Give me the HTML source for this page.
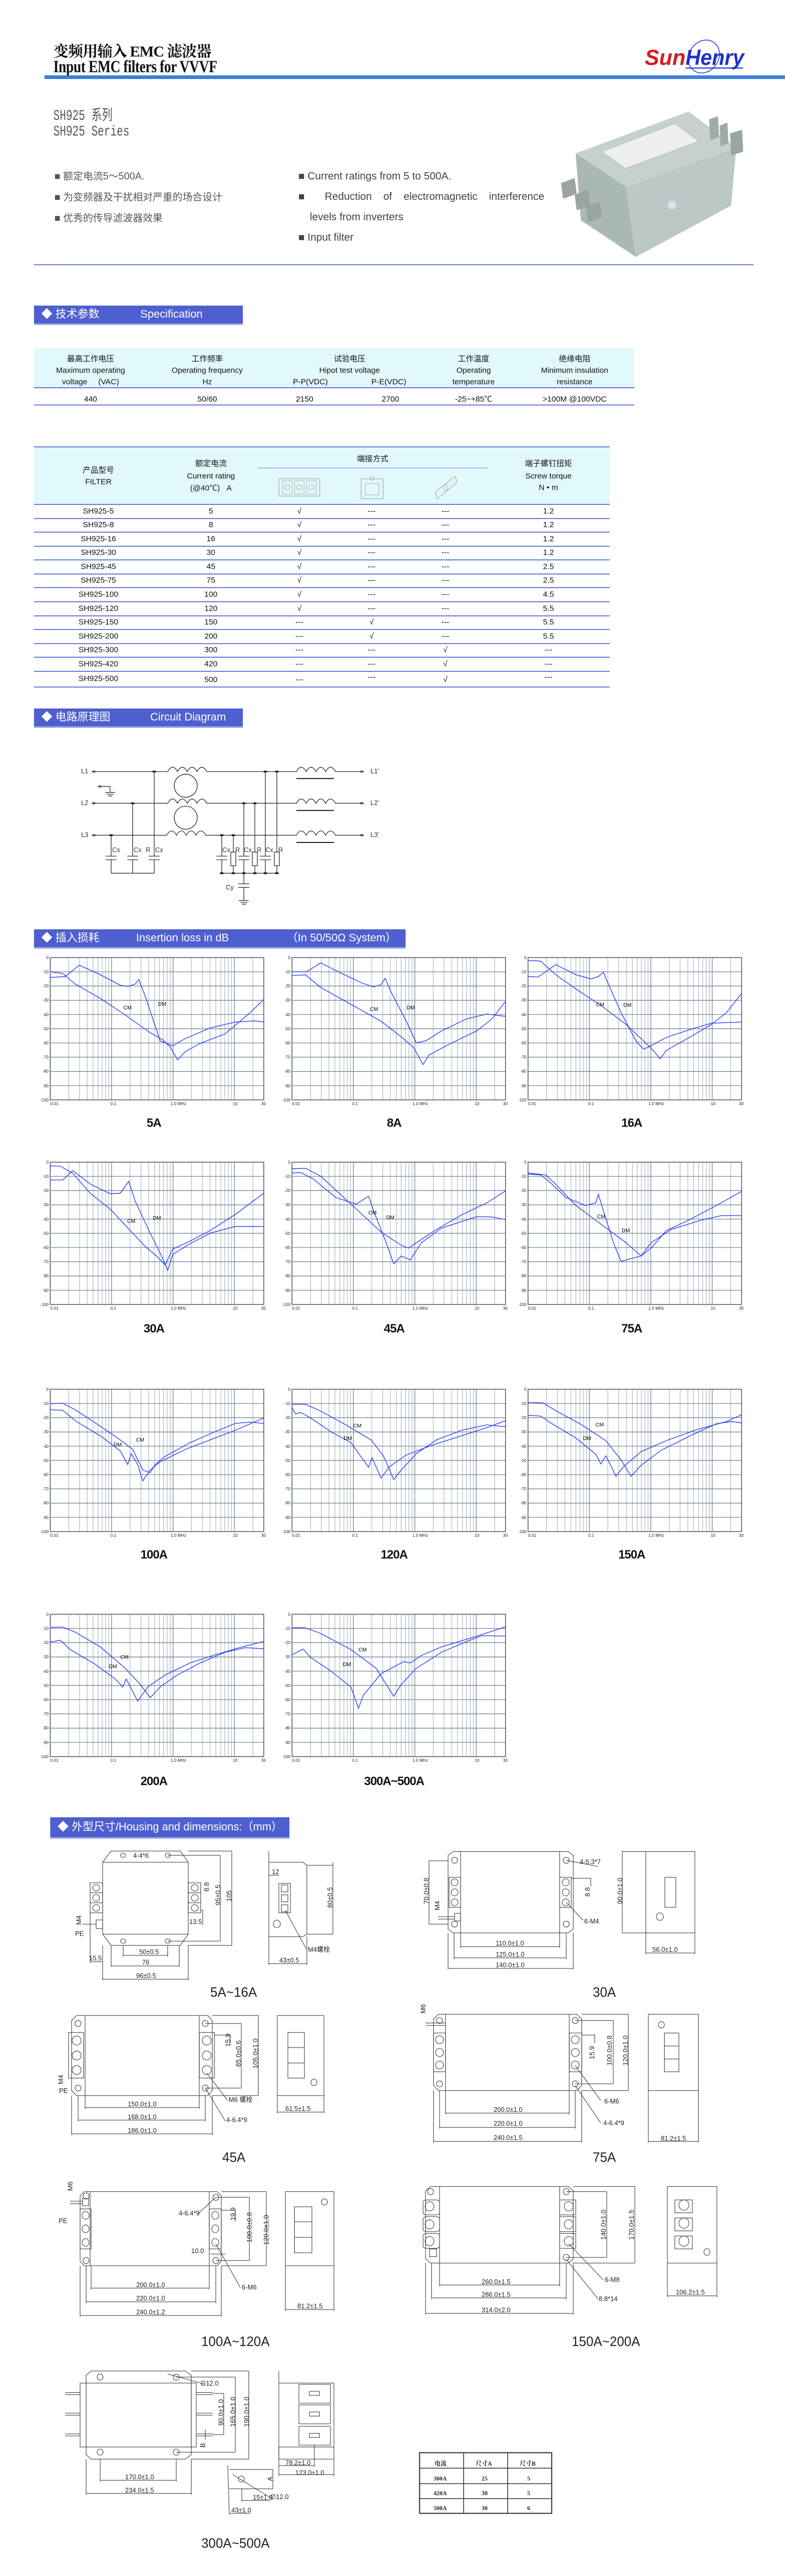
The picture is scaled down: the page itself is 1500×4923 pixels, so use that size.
<!DOCTYPE html>
<html><head><meta charset="utf-8">
<style>
html,body{margin:0;padding:0;background:#fff;}
body{width:1500px;height:4923px;position:relative;overflow:hidden;font-family:"Liberation Sans","Noto Sans CJK SC",sans-serif;color:#111;}
.a{position:absolute;}
.bar{position:absolute;background:#4e5fcf;border-bottom:3px solid #9aa6e6;color:#fff;font-size:21px;line-height:34px;white-space:nowrap;}
.bar span{position:absolute;top:0;}
.t{position:absolute;white-space:nowrap;transform:translate(-50%,-50%);font-size:15px;}
.lbl{position:absolute;transform:translate(-50%,-50%);font-size:23px;font-weight:bold;white-space:nowrap;letter-spacing:-1px;}
svg{position:absolute;overflow:visible;}
svg.z *{vector-effect:non-scaling-stroke;}
.hl{position:absolute;height:2px;background:#6a7de0;}
</style></head><body>

<!-- HEADER -->
<div class="a" style="left:102px;top:76px;font-family:'Liberation Serif','Noto Serif CJK SC',serif;font-weight:bold;font-size:29px;letter-spacing:-1px;">变频用输入 EMC 滤波器</div>
<div class="a" style="left:102px;top:110px;font-family:'Liberation Serif',serif;font-weight:bold;font-size:33px;transform:scaleX(0.8);transform-origin:left;letter-spacing:-0.5px;">Input EMC filters for VVVF</div>
<div class="a" style="left:85px;top:144px;width:1415px;height:7px;background:#3b80d8;"></div>
<svg style="left:1230px;top:78px" width="200" height="66">
<ellipse cx="115" cy="30" rx="28" ry="33" transform="rotate(35 115 30)" fill="none" stroke="#2a3bd8" stroke-width="1.5"/>
<text x="2" y="46" font-family="Liberation Sans" font-weight="bold" font-style="italic" font-size="42" fill="#d51a22" textLength="78" lengthAdjust="spacingAndGlyphs">Sun</text>
<text x="80" y="46" font-family="Liberation Sans" font-weight="bold" font-style="italic" font-size="42" fill="#2030cc" textLength="112" lengthAdjust="spacingAndGlyphs">Henry</text>
<line x1="80" y1="52" x2="190" y2="52" stroke="#2030cc" stroke-width="2"/>
</svg>

<div class="a" style="left:102px;top:198px;font-size:28px;color:#555;font-family:'Liberation Mono','Noto Sans CJK SC',monospace;transform:scaleX(0.72);transform-origin:left;">SH925 系列</div>
<div class="a" style="left:102px;top:237px;font-size:28px;color:#555;font-family:'Liberation Mono',monospace;transform:scaleX(0.72);transform-origin:left;">SH925 Series</div>

<div class="a" style="left:104px;top:318px;font-size:19px;color:#555;line-height:40px;">
<div>■ 额定电流5～500A.</div><div>■ 为变频器及干扰相对严重的场合设计</div><div>■ 优秀的传导滤波器效果</div></div>
<div class="a" style="left:570px;top:318px;font-size:20px;color:#444;line-height:39px;width:470px;">
<div>■ Current ratings from 5 to 500A.</div>
<div style="text-align:justify;text-align-last:justify;">■ Reduction of electromagnetic interference</div>
<div style="padding-left:22px;">levels from inverters</div><div>■ Input filter</div></div>

<!-- product -->
<svg style="left:0;top:0" width="1500" height="520">
<polygon points="1100,293 1196,357 1215,491 1110,421" fill="#a9b8b4"/>
<polygon points="1196,357 1407,282 1397,393 1215,491" fill="#bcc8c5"/>
<polygon points="1100,293 1316,213 1407,282 1196,357" fill="#c6d1ce"/>
<polygon points="1150,290 1290,236 1335,270 1195,322" fill="#eef0ee" stroke="#999" stroke-width="0.6"/>
<polygon points="1355,228 1372,222 1374,262 1357,268" fill="#a0aaa8"/>
<polygon points="1375,240 1390,234 1392,274 1377,280" fill="#a0aaa8"/>
<polygon points="1395,255 1418,248 1420,290 1397,297" fill="#9aa4a2"/>
<polygon points="1072,350 1098,340 1102,370 1076,380" fill="#9aa4a2"/>
<polygon points="1098,372 1124,362 1128,392 1102,402" fill="#9aa4a2"/>
<polygon points="1120,395 1146,385 1150,415 1124,425" fill="#9aa4a2"/>
<circle cx="1284" cy="392" r="8" fill="#dde"/>
</svg>
<div class="a" style="left:65px;top:505px;width:1375px;height:2px;background:#6d7fe0;"></div>

<!-- SPEC -->
<div class="bar" style="left:65px;top:584px;width:399px;height:34px;"><span style="left:14px;">◆ 技术参数</span><span style="left:203px;">Specification</span></div>
<div class="a" style="left:65px;top:665px;width:1147px;height:75px;background:#e2f9fb;"></div>
<div class="hl" style="left:65px;top:740px;width:1147px;"></div>
<div class="hl" style="left:65px;top:773px;width:1147px;"></div>
<div class="t" style="left:173px;top:685px">最高工作电压</div><div class="t" style="left:173px;top:708px">Maximum operating</div><div class="t" style="left:173px;top:730px">voltage &nbsp;&nbsp;&nbsp;&nbsp;(VAC)</div>
<div class="t" style="left:396px;top:685px">工作频率</div><div class="t" style="left:396px;top:708px">Operating frequency</div><div class="t" style="left:396px;top:730px">Hz</div>
<div class="t" style="left:668px;top:685px">试验电压</div><div class="t" style="left:668px;top:708px">Hipot test voltage</div><div class="t" style="left:593px;top:730px">P-P(VDC)</div><div class="t" style="left:743px;top:730px">P-E(VDC)</div>
<div class="t" style="left:905px;top:685px">工作温度</div><div class="t" style="left:905px;top:708px">Operating</div><div class="t" style="left:905px;top:730px">temperature</div>
<div class="t" style="left:1098px;top:685px">绝缘电阻</div><div class="t" style="left:1098px;top:708px">Minimum insulation</div><div class="t" style="left:1098px;top:730px">resistance</div>
<div class="t" style="left:173px;top:763px">440</div><div class="t" style="left:396px;top:763px">50/60</div><div class="t" style="left:582px;top:763px">2150</div><div class="t" style="left:746px;top:763px">2700</div><div class="t" style="left:905px;top:762px">-25~+85℃</div><div class="t" style="left:1098px;top:763px">&gt;100M @100VDC</div>

<!-- FILTER TABLE -->
<div class="hl" style="left:65px;top:853px;width:1100px;"></div>
<div class="a" style="left:65px;top:855px;width:1100px;height:108px;background:#e2f9fb;"></div>
<div class="hl" style="left:65px;top:963px;width:1100px;"></div>
<div class="a" style="left:493px;top:894px;width:438px;height:1px;background:#6a7de0;"></div>
<div class="t" style="left:188px;top:898px">产品型号</div><div class="t" style="left:188px;top:921px">FILTER</div>
<div class="t" style="left:403px;top:885px">额定电流</div><div class="t" style="left:403px;top:910px">Current rating</div><div class="t" style="left:403px;top:932px">(@40℃) &nbsp;&nbsp;A</div>
<div class="t" style="left:712px;top:876px">端接方式</div>
<div class="t" style="left:1048px;top:885px">端子螺钉扭矩</div><div class="t" style="left:1048px;top:910px">Screw torque</div><div class="t" style="left:1048px;top:932px">N • m</div>
<svg style="left:530px;top:910px" width="430" height="50">
<rect x="3" y="5" width="78" height="33" fill="none" stroke="#999"/><rect x="10" y="9" width="18" height="25" fill="none" stroke="#aaa"/><rect x="33" y="9" width="18" height="25" fill="none" stroke="#aaa"/><rect x="56" y="9" width="18" height="25" fill="none" stroke="#aaa"/>
<circle cx="19" cy="21" r="5" fill="none" stroke="#aaa"/><circle cx="42" cy="21" r="5" fill="none" stroke="#aaa"/><circle cx="65" cy="21" r="5" fill="none" stroke="#aaa"/>
<rect x="160" y="5" width="42" height="38" fill="none" stroke="#999"/><rect x="168" y="14" width="26" height="22" fill="none" stroke="#aaa"/><circle cx="181" cy="4" r="4" fill="none" stroke="#aaa"/>
<polygon points="302,30 340,0 343,12 305,44" fill="none" stroke="#999"/><ellipse cx="322" cy="22" rx="4" ry="6" fill="none" stroke="#aaa"/>
</svg>
<div class="t" style="left:188px;top:977px">SH925-5</div><div class="t" style="left:403px;top:977px">5</div><div class="t" style="left:572px;top:977px">√</div><div class="t" style="left:710px;top:977px">---</div><div class="t" style="left:851px;top:977px">---</div><div class="t" style="left:1048px;top:977px">1.2</div>
<div class="hl" style="left:65px;top:990px;width:1100px;"></div>
<div class="t" style="left:188px;top:1003px">SH925-8</div><div class="t" style="left:403px;top:1003px">8</div><div class="t" style="left:572px;top:1003px">√</div><div class="t" style="left:710px;top:1003px">---</div><div class="t" style="left:851px;top:1003px">---</div><div class="t" style="left:1048px;top:1003px">1.2</div>
<div class="hl" style="left:65px;top:1016px;width:1100px;"></div>
<div class="t" style="left:188px;top:1030px">SH925-16</div><div class="t" style="left:403px;top:1030px">16</div><div class="t" style="left:572px;top:1030px">√</div><div class="t" style="left:710px;top:1030px">---</div><div class="t" style="left:851px;top:1030px">---</div><div class="t" style="left:1048px;top:1030px">1.2</div>
<div class="hl" style="left:65px;top:1043px;width:1100px;"></div>
<div class="t" style="left:188px;top:1056px">SH925-30</div><div class="t" style="left:403px;top:1056px">30</div><div class="t" style="left:572px;top:1056px">√</div><div class="t" style="left:710px;top:1056px">---</div><div class="t" style="left:851px;top:1056px">---</div><div class="t" style="left:1048px;top:1056px">1.2</div>
<div class="hl" style="left:65px;top:1069px;width:1100px;"></div>
<div class="t" style="left:188px;top:1083px">SH925-45</div><div class="t" style="left:403px;top:1083px">45</div><div class="t" style="left:572px;top:1083px">√</div><div class="t" style="left:710px;top:1083px">---</div><div class="t" style="left:851px;top:1083px">---</div><div class="t" style="left:1048px;top:1083px">2.5</div>
<div class="hl" style="left:65px;top:1096px;width:1100px;"></div>
<div class="t" style="left:188px;top:1109px">SH925-75</div><div class="t" style="left:403px;top:1109px">75</div><div class="t" style="left:572px;top:1109px">√</div><div class="t" style="left:710px;top:1109px">---</div><div class="t" style="left:851px;top:1109px">---</div><div class="t" style="left:1048px;top:1109px">2.5</div>
<div class="hl" style="left:65px;top:1122px;width:1100px;"></div>
<div class="t" style="left:188px;top:1136px">SH925-100</div><div class="t" style="left:403px;top:1136px">100</div><div class="t" style="left:572px;top:1136px">√</div><div class="t" style="left:710px;top:1136px">---</div><div class="t" style="left:851px;top:1136px">---</div><div class="t" style="left:1048px;top:1136px">4.5</div>
<div class="hl" style="left:65px;top:1149px;width:1100px;"></div>
<div class="t" style="left:188px;top:1163px">SH925-120</div><div class="t" style="left:403px;top:1163px">120</div><div class="t" style="left:572px;top:1163px">√</div><div class="t" style="left:710px;top:1163px">---</div><div class="t" style="left:851px;top:1163px">---</div><div class="t" style="left:1048px;top:1163px">5.5</div>
<div class="hl" style="left:65px;top:1176px;width:1100px;"></div>
<div class="t" style="left:188px;top:1189px">SH925-150</div><div class="t" style="left:403px;top:1189px">150</div><div class="t" style="left:572px;top:1189px">---</div><div class="t" style="left:710px;top:1189px">√</div><div class="t" style="left:851px;top:1189px">---</div><div class="t" style="left:1048px;top:1189px">5.5</div>
<div class="hl" style="left:65px;top:1202px;width:1100px;"></div>
<div class="t" style="left:188px;top:1216px">SH925-200</div><div class="t" style="left:403px;top:1216px">200</div><div class="t" style="left:572px;top:1216px">---</div><div class="t" style="left:710px;top:1216px">√</div><div class="t" style="left:851px;top:1216px">---</div><div class="t" style="left:1048px;top:1216px">5.5</div>
<div class="hl" style="left:65px;top:1229px;width:1100px;"></div>
<div class="t" style="left:188px;top:1242px">SH925-300</div><div class="t" style="left:403px;top:1242px">300</div><div class="t" style="left:572px;top:1242px">---</div><div class="t" style="left:710px;top:1242px">---</div><div class="t" style="left:851px;top:1242px">√</div><div class="t" style="left:1048px;top:1242px">---</div>
<div class="hl" style="left:65px;top:1255px;width:1100px;"></div>
<div class="t" style="left:188px;top:1269px">SH925-420</div><div class="t" style="left:403px;top:1269px">420</div><div class="t" style="left:572px;top:1269px">---</div><div class="t" style="left:710px;top:1269px">---</div><div class="t" style="left:851px;top:1269px">√</div><div class="t" style="left:1048px;top:1269px">---</div>
<div class="hl" style="left:65px;top:1282px;width:1100px;"></div>
<div class="t" style="left:188px;top:1297px">SH925-500</div><div class="t" style="left:403px;top:1299px">500</div><div class="t" style="left:572px;top:1299px">---</div><div class="t" style="left:710px;top:1294px">---</div><div class="t" style="left:851px;top:1299px">√</div><div class="t" style="left:1048px;top:1294px">---</div>
<div class="hl" style="left:65px;top:1312px;width:1100px;"></div>

<!-- CIRCUIT -->
<div class="bar" style="left:65px;top:1354px;width:399px;height:34px;"><span style="left:14px;">◆ 电路原理图</span><span style="left:222px;">Circuit Diagram</span></div>
<svg class="z" style="left:0;top:1340px" width="1500" height="720" viewBox="0 0 1568 1568" preserveAspectRatio="none">
<g fill="none" stroke="#222" stroke-width="1.2">
<path d="M187,293 H335 q9.75,-36 19.5,0 q9.75,-36 19.5,0 q9.75,-36 19.5,0 q9.75,-36 19.5,0 H592 q9.75,-36 19.5,0 q9.75,-36 19.5,0 q9.75,-36 19.5,0 q9.75,-36 19.5,0 H723"/>
<path d="M187,425 H335 q9.75,-36 19.5,0 q9.75,-36 19.5,0 q9.75,-36 19.5,0 q9.75,-36 19.5,0 H592 q9.75,-36 19.5,0 q9.75,-36 19.5,0 q9.75,-36 19.5,0 q9.75,-36 19.5,0 H723"/>
<path d="M187,558 H333 q9.75,-36 19.5,0 q9.75,-36 19.5,0 q9.75,-36 19.5,0 q9.75,-36 19.5,0 H592 q9.75,-36 19.5,0 q9.75,-36 19.5,0 q9.75,-36 19.5,0 q9.75,-36 19.5,0 H723"/>
<path d="M592,322 H667 M592,455 H667 M592,588 H667" stroke-width="2"/>
<ellipse cx="371" cy="352" rx="23" ry="48"/><ellipse cx="371" cy="485" rx="23" ry="48"/>
<path d="M308,293 V645 M308,660 V716 M265,425 V645 M265,660 V716 M222,558 V645 M222,660 V716 M222,716 H308"/>
<path d="M211,645 H233 M211,660 H233 M254,645 H276 M254,660 H276 M297,645 H319 M297,660 H319"/>
<path d="M443,558 V645 M443,660 V716 M487,425 V645 M487,660 V716 M530,293 V645 M530,660 V716 M466,558 V628 M466,685 V716 M509,425 V628 M509,685 V716 M553,293 V628 M553,685 V716 M443,716 H553"/>
<path d="M432,645 H454 M432,660 H454 M476,645 H498 M476,660 H498 M519,645 H541 M519,660 H541"/>
<rect x="461" y="628" width="10" height="57"/><rect x="504" y="628" width="10" height="57"/><rect x="548" y="628" width="10" height="57"/>
<path d="M487,716 V760 M476,760 H498 M476,775 H498 M487,775 V830 M477,830 H497 M480,838 H494 M483,845 H491"/>
<path d="M200,355 H220 V380 M210,380 H230 M213,388 H227 M216,395 H224"/>
<circle cx="187" cy="293" r="3"/><circle cx="187" cy="425" r="3"/><circle cx="187" cy="558" r="3"/><circle cx="723" cy="293" r="3"/><circle cx="723" cy="425" r="3"/><circle cx="723" cy="558" r="3"/><circle cx="199" cy="355" r="3"/>
</g>
<g fill="#111">
<circle cx="308" cy="293" r="4"/><circle cx="530" cy="293" r="4"/><circle cx="553" cy="293" r="4"/><circle cx="265" cy="425" r="4"/><circle cx="487" cy="425" r="4"/><circle cx="509" cy="425" r="4"/><circle cx="222" cy="558" r="4"/><circle cx="443" cy="558" r="4"/><circle cx="466" cy="558" r="4"/>
<circle cx="443" cy="716" r="4"/><circle cx="466" cy="716" r="4"/><circle cx="487" cy="716" r="4"/><circle cx="509" cy="716" r="4"/><circle cx="530" cy="716" r="4"/><circle cx="553" cy="716" r="4"/>
</g>
<g font-size="13" fill="#333" font-family="Liberation Sans">
<text transform="translate(162,300) scale(1,2.178)">L1</text><text transform="translate(162,432) scale(1,2.178)">L2</text><text transform="translate(162,565) scale(1,2.178)">L3</text>
<text transform="translate(740,300) scale(1,2.178)">L1'</text><text transform="translate(740,432) scale(1,2.178)">L2'</text><text transform="translate(740,565) scale(1,2.178)">L3'</text>
<text transform="translate(224,628) scale(1,2.178)">Cx</text><text transform="translate(267,628) scale(1,2.178)">Cx</text><text transform="translate(291,628) scale(1,2.178)">R</text><text transform="translate(310,628) scale(1,2.178)">Cx</text>
<text transform="translate(444,628) scale(1,2.178)">Cx</text><text transform="translate(470,628) scale(1,2.178)">R</text><text transform="translate(487,628) scale(1,2.178)">Cx</text><text transform="translate(513,628) scale(1,2.178)">R</text><text transform="translate(530,628) scale(1,2.178)">Cx</text><text transform="translate(556,628) scale(1,2.178)">R</text>
<text transform="translate(451,784) scale(1,2.178)">Cy</text>
</g></svg>

<!-- INSERTION LOSS -->
<div class="bar" style="left:65px;top:1776px;width:710px;height:34px;"><span style="left:14px;">◆ 插入损耗</span><span style="left:195px;">Insertion loss in dB</span><span style="left:483px;">（In 50/50Ω System）</span></div>

<svg width="0" height="0" style="left:0;top:0"><defs>
<g id="grid">
<rect x="0" y="0" width="408" height="272" fill="#fff"/>
<path fill="none" stroke="#8a9aa8" stroke-width="0.8" d="M35.3,0V272M56,0V272M70.6,0V272M82,0V272M91.3,0V272M99.1,0V272M105.9,0V272M111.9,0V272M152.6,0V272M173.3,0V272M187.9,0V272M199.3,0V272M208.6,0V272M216.4,0V272M223.2,0V272M229.2,0V272M269.9,0V272M290.6,0V272M305.2,0V272M316.6,0V272M325.9,0V272M333.7,0V272M340.5,0V272M346.5,0V272M387.2,0V272"/>
<path fill="none" stroke="#6c7c8c" stroke-width="1.2" d="M117.3,0V272M234.6,0V272M351.9,0V272M0,27.2H408M0,54.4H408M0,81.6H408M0,108.8H408M0,136H408M0,163.2H408M0,190.4H408M0,217.6H408M0,244.8H408"/>
<rect x="0" y="0" width="408" height="272" fill="none" stroke="#556" stroke-width="1.5"/>
</g>
<g id="ax" font-size="8" fill="#223" font-family="Liberation Sans">
<text x="-3" y="3" text-anchor="end">0</text><text x="-3" y="30" text-anchor="end">-10</text><text x="-3" y="57" text-anchor="end">-20</text><text x="-3" y="84" text-anchor="end">-30</text><text x="-3" y="112" text-anchor="end">-40</text><text x="-3" y="139" text-anchor="end">-50</text><text x="-3" y="166" text-anchor="end">-60</text><text x="-3" y="193" text-anchor="end">-70</text><text x="-3" y="220" text-anchor="end">-80</text><text x="-3" y="248" text-anchor="end">-90</text><text x="-3" y="275" text-anchor="end">-100</text>
<text x="0" y="282">0.01</text><text x="115" y="282">0.1</text><text x="230" y="282">1.0  MHz</text><text x="349" y="282">10</text><text x="403" y="282">30</text>
</g></defs></svg>

<!-- Row 1 -->
<svg style="left:96px;top:1830px" width="408" height="272"><use href="#grid"/><use href="#ax"/>
<g transform="scale(0.955,0.453) translate(-100,-1068)" fill="none" stroke="#2236f0" stroke-width="1.3"><polyline vector-effect="non-scaling-stroke" points="100,1152 130,1148 158,1100 200,1140 240,1185 255,1190 270,1180 277,1160 290,1230 320,1420 345,1440 370,1410 420,1365 470,1340 510,1335 527,1340"/><polyline vector-effect="non-scaling-stroke" points="100,1128 125,1135 150,1180 200,1240 250,1310 300,1385 325,1415 340,1445 355,1500 370,1465 400,1430 450,1390 500,1300 527,1245"/></g>
<text x="140" y="99" font-size="10">CM</text><text x="206" y="92" font-size="10">DM</text></svg>
<svg style="left:558px;top:1830px" width="408" height="272"><use href="#grid"/><use href="#ax"/>
<g transform="scale(0.962,0.461) translate(-583,-1066)" fill="none" stroke="#2236f0" stroke-width="1.3"><polyline vector-effect="non-scaling-stroke" points="583,1125 612,1125 640,1088 680,1130 720,1170 745,1188 760,1178 768,1152 780,1210 810,1330 830,1420 850,1410 880,1370 930,1320 970,1300 1007,1310"/><polyline vector-effect="non-scaling-stroke" points="583,1140 610,1138 640,1190 700,1260 760,1330 800,1395 825,1440 843,1510 855,1470 900,1420 950,1370 980,1320 1007,1248"/></g>
<text x="149" y="102" font-size="10">CM</text><text x="219" y="99" font-size="10">DM</text></svg>
<svg style="left:1009px;top:1830px" width="408" height="272"><use href="#grid"/><use href="#ax"/>
<g transform="scale(0.96,0.453) translate(-1055,-1068)" fill="none" stroke="#2236f0" stroke-width="1.3"><polyline vector-effect="non-scaling-stroke" points="1055,1148 1075,1150 1110,1098 1150,1140 1180,1158 1195,1148 1205,1130 1215,1180 1240,1300 1270,1420 1285,1455 1300,1440 1330,1405 1380,1370 1420,1345 1480,1340"/><polyline vector-effect="non-scaling-stroke" points="1055,1080 1080,1083 1110,1140 1150,1200 1200,1270 1250,1350 1280,1410 1300,1450 1318,1495 1330,1460 1380,1400 1420,1350 1450,1300 1480,1220"/></g>
<text x="130" y="93" font-size="10">CM</text><text x="182" y="94" font-size="10">DM</text></svg>
<div class="lbl" style="left:294px;top:2146px">5A</div><div class="lbl" style="left:753px;top:2146px">8A</div><div class="lbl" style="left:1207px;top:2146px">16A</div>

<!-- Row 2 -->
<svg style="left:96px;top:2221px" width="408" height="272"><use href="#grid"/><use href="#ax"/>
<g transform="scale(0.955,0.508) translate(-100,-373)" fill="none" stroke="#2236f0" stroke-width="1.3"><polyline vector-effect="non-scaling-stroke" points="100,440 125,440 145,405 180,455 220,492 240,490 257,445 270,520 300,640 320,715 335,780 345,720 380,680 420,640 470,615 527,615"/><polyline vector-effect="non-scaling-stroke" points="100,387 120,388 145,415 180,490 220,550 260,630 290,690 315,730 330,760 345,700 380,670 420,630 470,570 527,490"/></g>
<text x="147" y="116" font-size="10">CM</text><text x="196" y="110" font-size="10">DM</text></svg>
<svg style="left:558px;top:2221px" width="408" height="272"><use href="#grid"/><use href="#ax"/>
<g transform="scale(0.962,0.508) translate(-583,-377)" fill="none" stroke="#2236f0" stroke-width="1.3"><polyline vector-effect="non-scaling-stroke" points="583,418 600,416 625,440 670,510 710,535 735,505 745,560 770,680 785,760 800,730 818,745 840,680 880,625 950,582 980,583 1007,593"/><polyline vector-effect="non-scaling-stroke" points="583,402 610,400 640,430 680,500 720,570 760,640 800,690 815,700 830,680 870,630 920,575 970,530 1007,485"/></g>
<text x="146" y="100" font-size="10">CM</text><text x="180" y="109" font-size="10">DM</text></svg>
<svg style="left:1009px;top:2221px" width="408" height="272"><use href="#grid"/><use href="#ax"/>
<g transform="scale(0.96,0.508) translate(-1055,-377)" fill="none" stroke="#2236f0" stroke-width="1.3"><polyline vector-effect="non-scaling-stroke" points="1055,422 1080,425 1100,455 1130,510 1170,540 1190,530 1195,498 1205,560 1225,680 1240,750 1260,740 1280,730 1300,680 1340,630 1400,595 1440,578 1480,578"/><polyline vector-effect="non-scaling-stroke" points="1055,418 1090,425 1110,460 1150,540 1200,610 1250,680 1280,730 1300,700 1330,635 1380,590 1430,540 1480,487"/></g>
<text x="132" y="107" font-size="10">CM</text><text x="179" y="134" font-size="10">DM</text></svg>
<div class="lbl" style="left:294px;top:2539px">30A</div><div class="lbl" style="left:753px;top:2539px">45A</div><div class="lbl" style="left:1207px;top:2539px">75A</div>

<!-- Row 3 -->
<svg style="left:96px;top:2655px" width="408" height="272"><use href="#grid"/><use href="#ax"/>
<g transform="scale(0.955,0.523) translate(-100,-1225)" fill="none" stroke="#2236f0" stroke-width="1.3"><polyline vector-effect="non-scaling-stroke" points="100,1278 125,1276 150,1300 200,1360 240,1410 265,1445 285,1520 300,1530 310,1500 330,1470 380,1420 430,1380 470,1350 500,1345 527,1350"/><polyline vector-effect="non-scaling-stroke" points="100,1300 125,1302 150,1340 200,1395 240,1450 255,1500 262,1460 275,1500 285,1560 300,1520 320,1490 370,1445 420,1410 470,1375 527,1330"/></g>
<text x="164" y="100" font-size="10">CM</text><text x="121" y="109" font-size="10">DM</text></svg>
<svg style="left:558px;top:2655px" width="408" height="272"><use href="#grid"/><use href="#ax"/>
<g transform="scale(0.962,0.523) translate(-583,-1215)" fill="none" stroke="#2236f0" stroke-width="1.3"><polyline vector-effect="non-scaling-stroke" points="583,1270 610,1270 640,1295 690,1345 740,1400 765,1460 785,1545 800,1510 830,1450 870,1400 920,1365 970,1345 1007,1352"/><polyline vector-effect="non-scaling-stroke" points="583,1283 590,1305 600,1300 620,1320 660,1370 700,1410 735,1500 742,1465 760,1540 775,1500 810,1455 860,1420 920,1385 970,1355 1007,1330"/></g>
<text x="117" y="73" font-size="10">CM</text><text x="99" y="97" font-size="10">DM</text></svg>
<svg style="left:1009px;top:2655px" width="408" height="272"><use href="#grid"/><use href="#ax"/>
<g transform="scale(0.96,0.523) translate(-1055,-1222)" fill="none" stroke="#2236f0" stroke-width="1.3"><polyline vector-effect="non-scaling-stroke" points="1055,1270 1085,1272 1110,1300 1160,1350 1210,1410 1240,1480 1260,1540 1280,1500 1320,1445 1380,1390 1430,1348 1460,1340 1480,1345"/><polyline vector-effect="non-scaling-stroke" points="1055,1317 1080,1320 1100,1345 1150,1400 1190,1460 1200,1495 1210,1465 1230,1540 1245,1505 1280,1450 1330,1410 1390,1370 1450,1340 1480,1315"/></g>
<text x="129" y="71" font-size="10">CM</text><text x="105" y="97" font-size="10">DM</text></svg>
<div class="lbl" style="left:294px;top:2971px">100A</div><div class="lbl" style="left:753px;top:2971px">120A</div><div class="lbl" style="left:1207px;top:2971px">150A</div>

<!-- Row 4 -->
<svg style="left:96px;top:3085px" width="408" height="272"><use href="#grid"/><use href="#ax"/>
<g transform="scale(0.955,0.511) translate(-100,-558)" fill="none" stroke="#2236f0" stroke-width="1.3"><polyline vector-effect="non-scaling-stroke" points="100,607 125,606 150,625 200,680 250,760 280,820 300,870 320,830 350,790 400,740 450,700 490,683 527,687"/><polyline vector-effect="non-scaling-stroke" points="100,662 120,655 140,690 190,745 230,800 245,830 252,800 275,883 295,830 330,785 380,740 430,710 480,682 527,660"/></g>
<text x="134" y="85" font-size="10">CM</text><text x="112" y="103" font-size="10">DM</text></svg>
<svg style="left:558px;top:3085px" width="408" height="272"><use href="#grid"/><use href="#ax"/>
<g transform="scale(0.962,0.511) translate(-583,-558)" fill="none" stroke="#2236f0" stroke-width="1.3"><polyline vector-effect="non-scaling-stroke" points="583,608 610,609 640,630 700,690 750,760 785,865 800,820 830,760 880,700 930,660 960,638 1007,640"/><polyline vector-effect="non-scaling-stroke" points="583,710 605,688 620,720 660,770 700,830 715,910 725,860 760,780 805,735 818,740 840,712 880,680 950,640 1007,605"/></g>
<text x="127" y="71" font-size="10">CM</text><text x="97" y="99" font-size="10">DM</text></svg>
<div class="lbl" style="left:294px;top:3404px">200A</div><div class="lbl" style="left:753px;top:3404px">300A~500A</div>

<!-- HOUSING -->
<div class="bar" style="left:96px;top:3473px;width:457px;height:38px;line-height:38px;"><span style="left:14px;">◆ 外型尺寸/Housing and dimensions:（mm）</span></div>

<svg class="z" style="left:0;top:3450px" width="1500" height="750" viewBox="0 0 1568 1568" preserveAspectRatio="none">
<g fill="none" stroke="#333" stroke-width="1">
<polygon points="205,228 222,183 360,183 376,228 376,515 360,560 222,560 205,515"/>
<path d="M205,228H376M205,515H376"/>
<ellipse cx="246" cy="200" rx="5" ry="9"/><ellipse cx="335" cy="200" rx="5" ry="9"/><ellipse cx="246" cy="543" rx="5" ry="9"/><ellipse cx="335" cy="543" rx="5" ry="9"/>
<rect x="180" y="310" width="25" height="120"/><rect x="376" y="310" width="25" height="120"/>
<path d="M180,350H205M180,390H205M376,350H401M376,390H401"/>
<ellipse cx="192" cy="330" rx="7" ry="13"/><ellipse cx="192" cy="370" rx="7" ry="13"/><ellipse cx="192" cy="410" rx="7" ry="13"/><ellipse cx="389" cy="330" rx="7" ry="13"/><ellipse cx="389" cy="370" rx="7" ry="13"/><ellipse cx="389" cy="410" rx="7" ry="13"/>
<rect x="192" y="458" width="13" height="35"/><path d="M165,475H192"/>
<path d="M335,200H440M335,543H440M440,200V543M376,183H463M376,560H463M463,183V560M246,560V605M335,560V605M246,600H335M222,560V645M358,560V645M222,642H358M205,560V700M376,560V700M205,695H376M180,430V630M205,560V630M180,625H205M401,420H405V480"/>
<path d="M537,183V560M537,228H605L613,240V515L605,525H537M613,240H665M613,515H665M665,228V515M537,560V638M613,525V638M537,633H613M537,280H557"/>
<rect x="557" y="312" width="23" height="118"/><rect x="562" y="318" width="13" height="28"/><rect x="562" y="358" width="13" height="28"/><rect x="562" y="398" width="13" height="28"/>
<ellipse cx="553" cy="474" rx="7" ry="15"/><path d="M570,420L612,575"/>
<polygon points="895,200 905,185 1135,185 1145,200 1145,495 1135,510 905,510 895,495"/>
<path d="M920,185V510M1118,185V510"/>
<ellipse cx="908" cy="220" rx="6" ry="12"/><ellipse cx="908" cy="475" rx="6" ry="12"/><ellipse cx="1131" cy="220" rx="6" ry="12"/><ellipse cx="1131" cy="475" rx="6" ry="12"/>
<rect x="897" y="288" width="23" height="120"/><rect x="1118" y="288" width="23" height="120"/>
<ellipse cx="908" cy="308" rx="7" ry="14"/><ellipse cx="908" cy="348" rx="7" ry="14"/><ellipse cx="908" cy="388" rx="7" ry="14"/><ellipse cx="1130" cy="308" rx="7" ry="14"/><ellipse cx="1130" cy="348" rx="7" ry="14"/><ellipse cx="1130" cy="388" rx="7" ry="14"/>
<rect x="908" y="432" width="12" height="30"/><path d="M875,445H908M875,455H908"/>
<path d="M857,222V475M857,222H895M857,475H895M920,510V570M1118,510V570M920,565H1118M907,510V615M1131,510V615M907,610H1131M895,510V655M1145,510V655M895,652H1145M1141,292H1180V325M1131,220L1195,245M1131,388L1165,460"/>
<rect x="1243" y="185" width="145" height="325"/><path d="M1290,185V510M1290,510V595M1388,510V595M1290,590H1388"/>
<rect x="1328" y="288" width="22" height="120"/><ellipse cx="1318" cy="445" rx="7" ry="15"/>
<polygon points="143,860 153,840 415,840 424,860 424,1140 415,1160 153,1160 143,1140"/>
<path d="M170,840V1160M398,840V1160"/>
<ellipse cx="156" cy="872" rx="6" ry="12"/><ellipse cx="156" cy="1130" rx="6" ry="12"/><ellipse cx="410" cy="872" rx="6" ry="12"/><ellipse cx="410" cy="1130" rx="6" ry="12"/>
<rect x="137" y="908" width="30" height="182"/><rect x="398" y="908" width="30" height="182"/>
<ellipse cx="153" cy="940" rx="9" ry="18"/><ellipse cx="153" cy="1000" rx="9" ry="18"/><ellipse cx="153" cy="1058" rx="9" ry="18"/><ellipse cx="413" cy="940" rx="9" ry="18"/><ellipse cx="413" cy="1000" rx="9" ry="18"/><ellipse cx="413" cy="1058" rx="9" ry="18"/>
<path d="M410,872H482M410,1130H482M482,872V1130M424,840H516M424,1160H516M516,840V1160M170,1160V1213M398,1160V1213M170,1208H398M156,1160V1263M410,1160V1263M156,1258H410M143,1160V1318M424,1160V1318M143,1313H424M428,918H460V950M413,1070L455,1180M410,1130L450,1262"/>
<rect x="554" y="840" width="93" height="320"/><path d="M554,1160V1231M647,1160V1231M554,1226H647"/>
<rect x="575" y="908" width="33" height="182"/><path d="M575,968H608M575,1030H608"/><ellipse cx="627" cy="1107" rx="6" ry="13"/>
<polygon points="866,855 876,835 1152,835 1162,855 1162,1120 1152,1140 876,1140 866,1120"/>
<path d="M890,835V1140M1137,835V1140"/>
<ellipse cx="878" cy="860" rx="6" ry="12"/><ellipse cx="878" cy="1113" rx="6" ry="12"/><ellipse cx="1149" cy="860" rx="6" ry="12"/><ellipse cx="1149" cy="1113" rx="6" ry="12"/>
<rect x="866" y="910" width="24" height="155"/><rect x="1137" y="910" width="25" height="155"/>
<ellipse cx="878" cy="937" rx="8" ry="16"/><ellipse cx="878" cy="988" rx="8" ry="16"/><ellipse cx="878" cy="1038" rx="8" ry="16"/><ellipse cx="1149" cy="937" rx="8" ry="16"/><ellipse cx="1149" cy="988" rx="8" ry="16"/><ellipse cx="1149" cy="1038" rx="8" ry="16"/>
<path d="M1149,860H1225M1149,1113H1225M1225,860V1113M1162,835H1255M1162,1140H1255M1255,835V1140M890,1140V1235M1137,1140V1235M890,1230H1137M878,1140V1292M1149,1140V1292M878,1287H1149M866,1140V1348M1162,1140V1348M866,1343H1162M1162,918H1188V950M1149,1040L1200,1180M1149,1120L1200,1270M850,870H890M850,880H890"/>
<rect x="1295" y="835" width="100" height="305"/><path d="M1295,1140V1348M1395,1140V1348M1295,1343H1395"/>
<rect x="1327" y="910" width="29" height="155"/><path d="M1327,962H1356M1327,1014H1356"/><ellipse cx="1321" cy="877" rx="6" ry="13"/>
</g>
<g font-size="13" fill="#222" font-family="Liberation Sans">
<text transform="translate(266,210) scale(1,2.09)">4-4*6</text>
<text transform="translate(278,595) scale(1,2.09)">50±0.5</text><text transform="translate(284,637) scale(1,2.09)">76</text><text transform="translate(272,690) scale(1,2.09)">96±0.5</text><text transform="translate(178,620) scale(1,2.09)">15.5</text><text transform="translate(378,475) scale(1,2.09)">13.5</text><text transform="translate(150,522) scale(1,2.09)">PE</text>
<text transform="translate(162,478) scale(1,2.09) rotate(-90)">M4</text><text transform="translate(417,345) scale(1,2.09) rotate(-90)">8.8</text><text transform="translate(440,400) scale(1,2.09) rotate(-90)">95±0.5</text><text transform="translate(462,385) scale(1,2.09) rotate(-90)">105</text><text transform="translate(664,410) scale(1,2.09) rotate(-90)">80±0.5</text>
<text transform="translate(543,275) scale(1,2.09)">12</text><text transform="translate(615,585) scale(1,2.09)">M4螺栓</text><text transform="translate(558,628) scale(1,2.09)">43±0.5</text>
<text font-size="26" transform="translate(420,765) scale(1,2.09)">5A~16A</text>
<text transform="translate(1158,235) scale(1,2.09)">4-5.3*7</text><text transform="translate(990,560) scale(1,2.09)">110.0±1.0</text><text transform="translate(990,605) scale(1,2.09)">125.0±1.0</text><text transform="translate(990,647) scale(1,2.09)">140.0±1.0</text><text transform="translate(1167,472) scale(1,2.09)">6-M4</text><text transform="translate(1303,585) scale(1,2.09)">56.0±1.0</text>
<text transform="translate(856,395) scale(1,2.09) rotate(-90)">70.0±0.8</text><text transform="translate(878,420) scale(1,2.09) rotate(-90)">M4</text><text transform="translate(1178,365) scale(1,2.09) rotate(-90)">8.8</text><text transform="translate(1243,395) scale(1,2.09) rotate(-90)">90.0±1.0</text>
<text font-size="26" transform="translate(1184,765) scale(1,2.09)">30A</text>
<text transform="translate(255,1203) scale(1,2.09)">150.0±1.0</text><text transform="translate(255,1254) scale(1,2.09)">168.0±1.0</text><text transform="translate(255,1309) scale(1,2.09)">186.0±1.0</text><text transform="translate(457,1185) scale(1,2.09)">M6 螺栓</text><text transform="translate(452,1266) scale(1,2.09)">4-6.4*9</text><text transform="translate(570,1221) scale(1,2.09)">61.5±1.5</text><text transform="translate(118,1150) scale(1,2.09)">PE</text>
<text transform="translate(460,965) scale(1,2.09) rotate(-90)">15.9</text><text transform="translate(481,1045) scale(1,2.09) rotate(-90)">85.0±0.6</text><text transform="translate(515,1052) scale(1,2.09) rotate(-90)">105.0±1.0</text><text transform="translate(126,1115) scale(1,2.09) rotate(-90)">M4</text>
<text font-size="26" transform="translate(444,1425) scale(1,2.09)">45A</text>
<text transform="translate(986,1225) scale(1,2.09)">200.0±1.0</text><text transform="translate(986,1281) scale(1,2.09)">220.0±1.0</text><text transform="translate(986,1337) scale(1,2.09)">240.0±1.5</text><text transform="translate(1207,1192) scale(1,2.09)">6-M6</text><text transform="translate(1205,1278) scale(1,2.09)">4-6.4*9</text><text transform="translate(1320,1340) scale(1,2.09)">81.2±1.5</text>
<text transform="translate(1187,1015) scale(1,2.09) rotate(-90)">15.9</text><text transform="translate(1222,1040) scale(1,2.09) rotate(-90)">100.0±0.8</text><text transform="translate(1254,1040) scale(1,2.09) rotate(-90)">120.0±1.0</text><text transform="translate(850,832) scale(1,2.09) rotate(-90)">M6</text>
<text font-size="26" transform="translate(1184,1425) scale(1,2.09)">75A</text>
</g></svg>

<svg class="z" style="left:0;top:4150px" width="1500" height="773" viewBox="0 0 1568 1568" preserveAspectRatio="none">
<g fill="none" stroke="#333" stroke-width="1">
<polygon points="160,95 168,78 434,78 442,95 442,348 434,365 168,365 160,348"/>
<path d="M180,78V365M418,78V365"/>
<ellipse cx="172" cy="95" rx="6" ry="12"/><ellipse cx="172" cy="345" rx="6" ry="12"/><ellipse cx="431" cy="100" rx="6" ry="12"/><ellipse cx="431" cy="345" rx="6" ry="12"/>
<rect x="160" y="145" width="22" height="155"/><rect x="418" y="145" width="24" height="155"/>
<ellipse cx="171" cy="170" rx="7" ry="15"/><ellipse cx="171" cy="222" rx="7" ry="15"/><ellipse cx="171" cy="275" rx="7" ry="15"/><ellipse cx="430" cy="170" rx="7" ry="15"/><ellipse cx="430" cy="222" rx="7" ry="15"/><ellipse cx="430" cy="275" rx="7" ry="15"/>
<rect x="165" y="105" width="12" height="28"/><path d="M140,115H165M140,125H165"/>
<path d="M431,100H498M431,345H498M498,100V345M442,78H532M442,365H532M532,78V365M182,365V457M418,365V457M182,452H418M172,365V510M431,365V510M172,505H431M160,365V563M442,365V563M160,558H442M442,150H470V195M420,320H450M431,280L480,450M431,100L395,165"/>
<rect x="570" y="78" width="97" height="287"/><path d="M570,365V540M667,365V540M570,535H667"/>
<rect x="588" y="137" width="35" height="178"/><path d="M588,195H623M588,255H623"/><ellipse cx="648" cy="118" rx="6" ry="12"/>
<polygon points="850,75 860,58 1135,58 1145,75 1145,338 1135,355 860,355 850,338"/>
<path d="M878,58V355M1118,58V355"/>
<ellipse cx="1131" cy="78" rx="6" ry="12"/><ellipse cx="1131" cy="333" rx="6" ry="12"/><ellipse cx="860" cy="78" rx="6" ry="12"/>
<rect x="845" y="110" width="33" height="58" rx="8"/><rect x="845" y="175" width="33" height="58" rx="8"/><rect x="845" y="240" width="33" height="58" rx="8"/>
<ellipse cx="858" cy="135" rx="9" ry="18"/><ellipse cx="858" cy="205" rx="9" ry="18"/><ellipse cx="858" cy="270" rx="9" ry="18"/>
<rect x="1118" y="110" width="32" height="58"/><rect x="1118" y="175" width="32" height="58"/><rect x="1118" y="240" width="32" height="58"/>
<ellipse cx="1136" cy="135" rx="9" ry="18"/><ellipse cx="1136" cy="205" rx="9" ry="18"/><ellipse cx="1136" cy="270" rx="9" ry="18"/>
<rect x="858" y="300" width="14" height="30"/>
<path d="M1131,78H1212M1131,333H1212M1212,78V333M1145,58H1268M1145,355H1268M1268,58V355M878,355V445M1118,355V445M878,440H1118M862,355V495M1131,355V495M862,490H1131M850,355V555M1145,355V555M850,550H1145M1136,280L1205,420M1131,340L1195,495"/>
<rect x="1333" y="58" width="99" height="297"/><path d="M1333,355V487M1432,355V487M1333,482H1432"/>
<rect x="1348" y="110" width="35" height="50"/><rect x="1348" y="180" width="35" height="50"/><rect x="1348" y="250" width="35" height="50"/>
<ellipse cx="1366" cy="130" rx="10" ry="20"/><ellipse cx="1366" cy="200" rx="10" ry="20"/><ellipse cx="1366" cy="270" rx="10" ry="20"/><ellipse cx="1412" cy="312" rx="6" ry="13"/>
<polygon points="172,790 182,773 370,773 382,790 382,1098 370,1115 182,1115 172,1098"/>
<path d="M172,820H382M172,1068H382"/>
<rect x="160" y="820" width="12" height="248"/><rect x="382" y="820" width="10" height="248"/>
<ellipse cx="200" cy="797" rx="6" ry="12"/><ellipse cx="352" cy="797" rx="6" ry="12"/><ellipse cx="200" cy="1088" rx="6" ry="12"/><ellipse cx="352" cy="1088" rx="6" ry="12"/>
<path d="M130,857H160M130,865H160M130,937H160M130,945H160M130,1017H160M130,1025H160M392,857H425M392,865H425M392,937H425M392,945H425M392,1017H425M392,1025H425"/>
<path d="M425,860H447M425,1020H447M447,860V1020M352,797H470M352,1088H470M470,797V1088M382,773H497M382,1115H497M497,773V1115M200,1115V1202M352,1115V1202M200,1197H352M172,1115V1253M382,1115V1253M172,1248H382M335,785L410,825M410,1000V1040"/>
<path d="M557,773V820M557,820H667V1068H557V820M557,1068V1115H667"/>
<rect x="597" y="825" width="63" height="73"/><rect x="597" y="905" width="63" height="73"/><rect x="597" y="988" width="63" height="73"/>
<rect x="618" y="852" width="20" height="16"/><rect x="618" y="932" width="20" height="16"/><rect x="618" y="1015" width="20" height="16"/>
<path d="M557,1068V1180M628,1060V1145M557,1140H628M667,1068V1180M557,1175H667"/>
<path d="M455,1140L458,1330M458,1155H545V1230H458M483,1230V1280M483,1275H540M458,1325H500M465,1175L545,1270"/>
<ellipse cx="482" cy="1192" rx="6" ry="12"/>
<rect x="838" y="1090" width="264" height="235" stroke-width="2"/>
<path d="M838,1150H1102M838,1210H1102M838,1268H1102M926,1090V1325M1014,1090V1325" stroke-width="1.5"/>
</g>
<g font-size="13" fill="#222" font-family="Liberation Sans">
<text transform="translate(272,448) scale(1,2.028)">200.0±1.0</text><text transform="translate(272,500) scale(1,2.028)">220.0±1.0</text><text transform="translate(272,554) scale(1,2.028)">240.0±1.2</text><text transform="translate(483,457) scale(1,2.028)">6-M6</text><text transform="translate(357,170) scale(1,2.028)">4-6.4*9</text><text transform="translate(382,316) scale(1,2.028)">10.0</text><text transform="translate(117,200) scale(1,2.028)">PE</text><text transform="translate(594,530) scale(1,2.028)">81.2±1.5</text>
<text transform="translate(470,190) scale(1,2.028) rotate(-90)">19.9</text><text transform="translate(503,275) scale(1,2.028) rotate(-90)">100.0±0.8</text><text transform="translate(536,285) scale(1,2.028) rotate(-90)">120.0±1.0</text><text transform="translate(145,75) scale(1,2.028) rotate(-90)">M6</text>
<text font-size="26" transform="translate(402,676) scale(1,2.028)">100A~120A</text>
<text transform="translate(962,436) scale(1,2.028)">260.0±1.5</text><text transform="translate(962,486) scale(1,2.028)">286.0±1.5</text><text transform="translate(962,546) scale(1,2.028)">314.0±2.0</text><text transform="translate(1208,428) scale(1,2.028)">6-M8</text><text transform="translate(1196,502) scale(1,2.028)">8.8*14</text><text transform="translate(1350,477) scale(1,2.028)">106.2±1.5</text>
<text transform="translate(1210,265) scale(1,2.028) rotate(-90)">140.0±1.0</text><text transform="translate(1266,265) scale(1,2.028) rotate(-90)">170.0±1.5</text>
<text font-size="26" transform="translate(1142,676) scale(1,2.028)">150A~200A</text>
<text transform="translate(250,1193) scale(1,2.028)">170.0±1.0</text><text transform="translate(250,1244) scale(1,2.028)">234.0±1.5</text><text transform="translate(400,830) scale(1,2.028)">∅12.0</text><text transform="translate(570,1138) scale(1,2.028)">78.2±1.0</text><text transform="translate(590,1177) scale(1,2.028)">123.0±1.0</text><text transform="translate(540,1270) scale(1,2.028)">∅12.0</text><text transform="translate(505,1272) scale(1,2.028)">15±1.0</text><text transform="translate(462,1322) scale(1,2.028)">43±1.0</text>
<text transform="translate(446,985) scale(1,2.028) rotate(-90)">90.0±1.0</text><text transform="translate(470,990) scale(1,2.028) rotate(-90)">165.0±1.0</text><text transform="translate(497,990) scale(1,2.028) rotate(-90)">190.0±1.0</text><text transform="translate(410,1070) scale(1,2.028) rotate(-90)">B</text><text transform="translate(544,1200) scale(1,2.028) rotate(-90)">A</text>
<text font-size="26" transform="translate(402,1458) scale(1,2.028)">300A~500A</text>
<g font-family="Liberation Serif,Noto Serif CJK SC,serif" font-weight="bold" font-size="12">
<text transform="translate(868,1140) scale(1,2.028)">电流</text><text transform="translate(950,1140) scale(1,2.028)">尺寸A</text><text transform="translate(1038,1140) scale(1,2.028)">尺寸B</text>
<text transform="translate(866,1198) scale(1,2.028)">300A</text><text transform="translate(962,1198) scale(1,2.028)">25</text><text transform="translate(1053,1198) scale(1,2.028)">5</text>
<text transform="translate(866,1255) scale(1,2.028)">420A</text><text transform="translate(962,1255) scale(1,2.028)">30</text><text transform="translate(1053,1255) scale(1,2.028)">5</text>
<text transform="translate(866,1312) scale(1,2.028)">500A</text><text transform="translate(962,1312) scale(1,2.028)">30</text><text transform="translate(1053,1312) scale(1,2.028)">6</text>
</g></g></svg>

</body></html>
